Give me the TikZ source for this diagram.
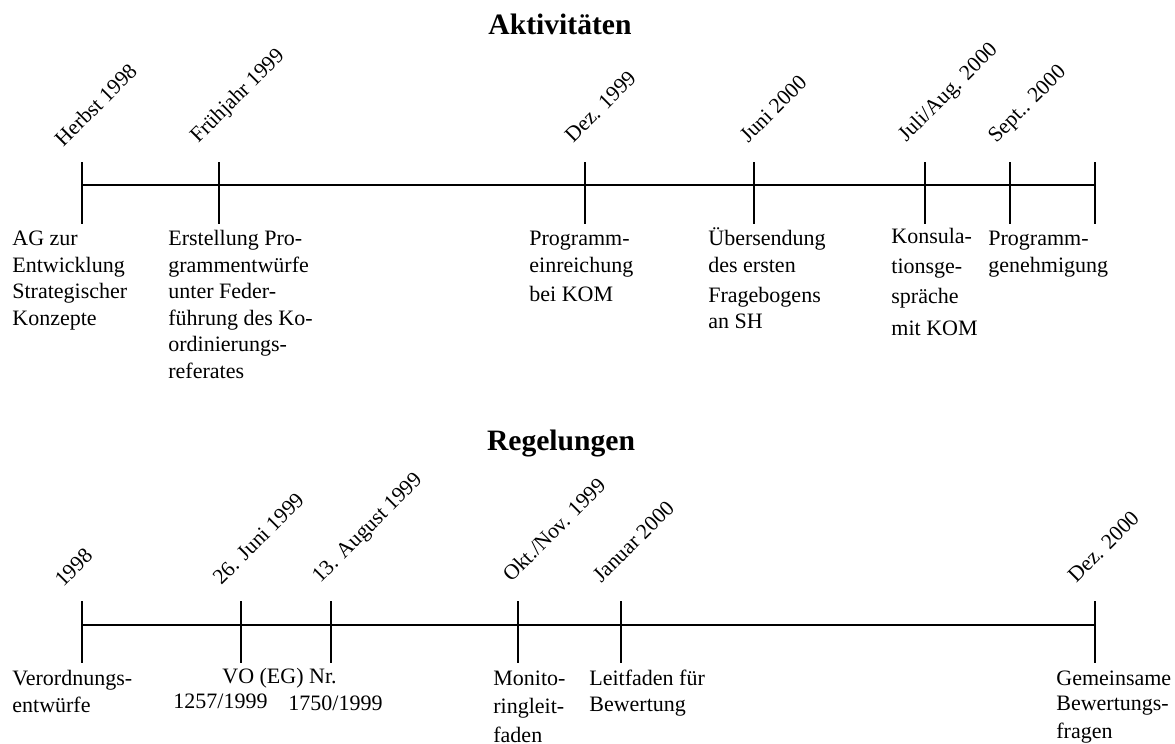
\documentclass[tikz,border=0pt]{standalone}
\usepackage{fontspec}
\setmainfont{Liberation Serif}
\begin{document}
\begin{tikzpicture}[x=0.5pt,y=-0.5pt,
  axisline/.style={line width=0.65pt},
  tickline/.style={line width=0.65pt},
  datelbl/.style={rotate=45,anchor=base west,inner sep=0pt,font=\fontsize{10.8}{13}\selectfont},
  desc/.style={anchor=base west,inner sep=0pt,align=left},
  titlelbl/.style={anchor=base,inner sep=0pt,font=\fontsize{14.8}{17}\selectfont\bfseries}]
\useasboundingbox (0,0) rectangle (1175,744);

% titles
\node[titlelbl] (t1) at (560,34) {Aktivitäten};
\node[titlelbl] (t2) at (561,450) {Regelungen};

% ---------- top timeline ----------
\coordinate (a0) at (82,185);
\coordinate (a1) at (1095,185);
\draw[axisline] (a0) -- (a1);
\foreach \n/\x in {h/82,f/219,d/585,j/754,ja/925,s/1010,e/1095}{
  \coordinate (at\n) at (\x,162);
  \coordinate (ab\n) at (\x,224);
  \draw[tickline] (at\n) -- (ab\n);
}

\node[datelbl] (l1) at (63,148) {Herbst 1998};
\node[datelbl] (l2) at (198,144) {Frühjahr 1999};
\node[datelbl] (l3) at (573,144) {Dez. 1999};
\node[datelbl] (l4) at (748,144) {Juni 2000};
\node[datelbl] (l5) at (906,143) {Juli/Aug. 2000};
\node[datelbl] (l6) at (996,144) {Sept.. 2000};

% multi-line texts: anchored at the baseline of their last line
\node[desc,font=\fontsize{11}{13.25}\selectfont] (d1) at (12,325)
  {AG zur\\Entwicklung\\Strategischer\\Konzepte};
\node[desc,font=\fontsize{11}{13.25}\selectfont] (d2) at (168,378)
  {Erstellung Pro-\\grammentwürfe\\unter Feder-\\führung des Ko-\\ordinierungs-\\referates};
\node[desc,font=\fontsize{11}{13.5}\selectfont] (d3) at (529,301)
  {Programm-\\einreichung\\[1pt]bei KOM};
\node[desc,font=\fontsize{11}{13}\selectfont] (d4) at (708,328)
  {Übersendung\\[0.5pt]des ersten\\[2pt]Fragebogens\\an SH};
\node[desc,font=\fontsize{11}{15}\selectfont] (d5) at (891,335)
  {Konsula-\\tionsge-\\spräche\\[1pt]mit KOM};
\node[desc,font=\fontsize{11}{13.5}\selectfont] (d6) at (988,272)
  {Programm-\\genehmigung};

% ---------- bottom timeline ----------
\coordinate (b0) at (82,625);
\coordinate (b1) at (1095,625);
\draw[axisline] (b0) -- (b1);
\foreach \n/\x in {a/82,b/241,c/331,d/518,e/621,f/1095}{
  \coordinate (bt\n) at (\x,601);
  \coordinate (bb\n) at (\x,663);
  \draw[tickline] (bt\n) -- (bb\n);
}

\node[datelbl] (m1) at (63,588) {1998};
\node[datelbl] (m2) at (221,586) {26. Juni 1999};
\node[datelbl] (m3) at (320,584) {13. August 1999};
\node[datelbl] (m4) at (511,583) {Okt./Nov. 1999};
\node[datelbl] (m5) at (601,584) {Januar 2000};
\node[datelbl] (m6) at (1076,584) {Dez. 2000};

\node[desc,font=\fontsize{11}{13.5}\selectfont] (e1) at (12,712)
  {Verordnungs-\\entwürfe};
\node[desc,font=\fontsize{11}{13.5}\selectfont] (e2) at (222,683) {VO (EG) Nr.};
\node[desc,font=\fontsize{11}{13.5}\selectfont] (e3) at (173,708) {1257/1999};
\node[desc,font=\fontsize{11}{13.5}\selectfont] (e4) at (288,710) {1750/1999};
\node[desc,font=\fontsize{11}{14}\selectfont] (e5) at (493,742)
  {Monito-\\ringleit-\\[0.5pt]faden};
\node[desc,font=\fontsize{11}{13}\selectfont] (e6) at (589,711)
  {Leitfaden für\\Bewertung};
\node[desc,font=\fontsize{11}{12.5}\selectfont] (e7) at (1056,738)
  {Gemeinsame\\Bewertungs-\\[1.5pt]fragen};
\end{tikzpicture}
\end{document}
